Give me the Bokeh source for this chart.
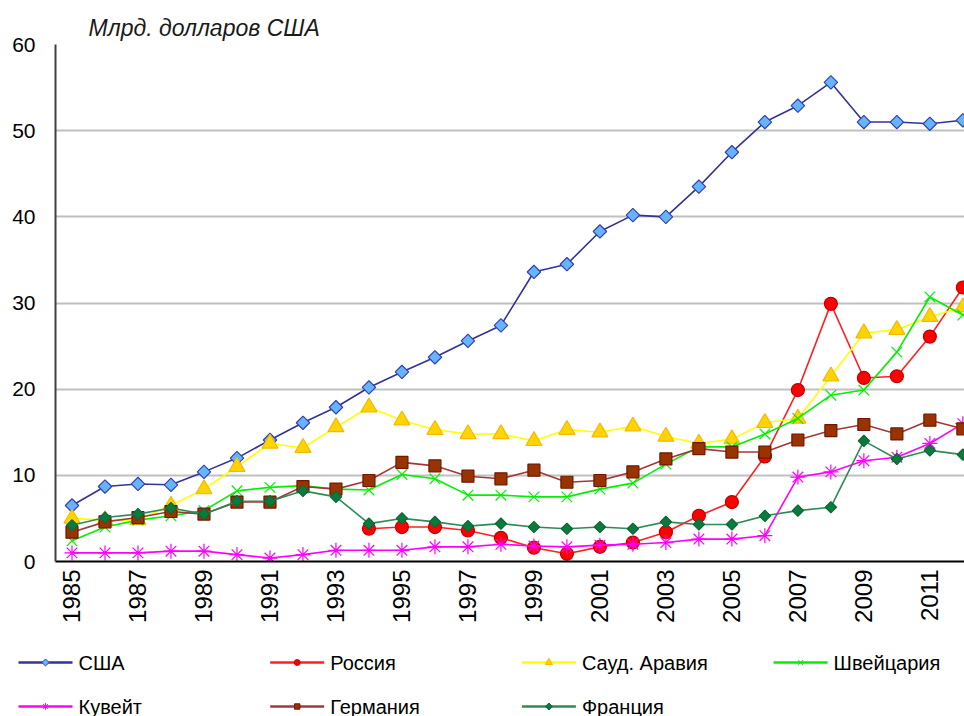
import math
from bokeh.plotting import figure
from bokeh.layouts import column
from bokeh.models import FixedTicker, Range1d, Column
from bokeh.core.properties import value
from bokeh.embed import file_html
from bokeh.resources import INLINE

# ---------------- data (billions of US dollars) ----------------
years = list(range(1985, 2013))
x_ticks = list(range(1985, 2012, 2))
y_ticks = [0, 10, 20, 30, 40, 50, 60]

usa = [6.5, 8.7, 9.0, 8.9, 10.4, 12.0, 14.1, 16.1, 17.9, 20.2, 22.0, 23.7, 25.6, 27.4,
       33.6, 34.5, 38.3, 40.2, 40.0, 43.5, 47.5, 51.0, 52.9, 55.6, 51.0, 51.0, 50.8, 51.2]
russia_years = list(range(1994, 2013))
russia = [3.8, 4.0, 4.0, 3.6, 2.75, 1.6, 0.9, 1.7, 2.2, 3.4, 5.3, 6.9, 12.2, 19.9,
          29.9, 21.3, 21.5, 26.1, 31.8]
saudi = [5.0, 4.8, 4.8, 6.5, 8.4, 11.0, 13.7, 13.2, 15.6, 17.9, 16.4, 15.3, 14.8, 14.8,
         14.0, 15.3, 15.0, 15.7, 14.5, 13.7, 14.2, 16.1, 16.6, 21.5, 26.5, 26.9, 28.4, 29.5]
swiss = [2.4, 4.0, 4.8, 5.3, 5.9, 8.2, 8.6, 8.8, 8.4, 8.3, 10.1, 9.6, 7.7, 7.7,
         7.5, 7.5, 8.4, 9.1, 11.3, 13.3, 13.3, 14.8, 16.6, 19.3, 19.9, 24.3, 30.7, 28.6]
kuwait = [1.0, 1.0, 1.0, 1.2, 1.2, 0.8, 0.4, 0.8, 1.3, 1.3, 1.3, 1.7, 1.7, 2.0,
          1.8, 1.7, 1.9, 2.0, 2.2, 2.6, 2.6, 3.0, 9.8, 10.4, 11.7, 12.1, 13.7, 16.0]
germany = [3.4, 4.6, 5.1, 5.8, 5.5, 6.9, 6.9, 8.7, 8.4, 9.4, 11.5, 11.1, 9.9, 9.6,
           10.6, 9.2, 9.4, 10.4, 11.9, 13.1, 12.7, 12.7, 14.1, 15.2, 15.9, 14.8, 16.4, 15.4]
france = [4.2, 5.1, 5.5, 6.2, 5.5, 7.0, 7.0, 8.2, 7.5, 4.4, 5.0, 4.6, 4.1, 4.4,
          4.0, 3.8, 4.0, 3.8, 4.6, 4.3, 4.3, 5.3, 5.9, 6.3, 14.0, 11.9, 12.9, 12.4]

names = ["США", "Россия", "Сауд. Аравия", "Швейцария", "Кувейт", "Германия", "Франция"]
title_text = "Млрд. долларов США"

FONT = "Liberation Sans"

# series styles: line colour, marker, size, fill, outline, angle
styles = [
    ("#333399", "square", 9.5, "#66B3FF", "#3344AA", math.pi / 4),
    ("#FF2020", "circle", 13, "#FF0000", "#C00000", 0.0),
    ("#FFFF00", "triangle", 16, "#FFD400", "#F5B800", 0.0),
    ("#00F000", "x", 15, "#00F000", "#00F000", 0.0),
    ("#FF00FF", "asterisk", 15, "#FF00FF", "#FF00FF", 0.0),
    ("#A03A3A", "square", 12, "#993300", "#701800", 0.0),
    ("#2E8B57", "square", 8, "#0A7A3E", "#0A6A36", math.pi / 4),
]
series_x = [years, russia_years, years, years, years, years, years]
series_y = [usa, russia, saudi, swiss, kuwait, germany, france]

p = figure(width=964, height=640, output_backend="svg", toolbar_location=None,
           x_range=Range1d(1984.5, 2012.05), y_range=Range1d(0, 60),
           min_border_left=55, min_border_right=0, min_border_top=44,
           min_border_bottom=79, background_fill_color="white",
           border_fill_color="white")
p.outline_line_color = None

# title
p.title.text = title_text
p.title.text_font = FONT
p.title.text_font_size = "23px"
p.title.text_font_style = "italic"
p.title.text_color = "#1a1a1a"
p.title.align = "left"
p.title.offset = 33
p.title.standoff = 8

# axes
p.xaxis.ticker = FixedTicker(ticks=x_ticks)
p.xaxis.major_label_orientation = math.pi / 2
p.xaxis.major_label_text_font = FONT
p.xaxis.major_label_text_font_size = "24px"
p.xaxis.major_label_text_color = "black"
p.xaxis.major_label_standoff = 8
p.xaxis.major_tick_out = 0
p.xaxis.major_tick_in = 0
p.xaxis.minor_tick_out = 0
p.xaxis.minor_tick_in = 0
p.xaxis.axis_line_color = "black"
p.xaxis.axis_line_width = 2

p.yaxis.ticker = FixedTicker(ticks=y_ticks)
p.yaxis.major_label_text_font = FONT
p.yaxis.major_label_text_font_size = "21px"
p.yaxis.major_label_text_color = "black"
p.yaxis.major_label_standoff = 20
p.yaxis.major_tick_out = 0
p.yaxis.major_tick_in = 0
p.yaxis.minor_tick_out = 0
p.yaxis.minor_tick_in = 0
p.yaxis.axis_line_color = "#404040"
p.yaxis.axis_line_width = 2

p.xgrid.visible = False
p.ygrid.grid_line_color = "#C0C0C0"
p.ygrid.grid_line_width = 2

for xs, ys, (lc, mk, sz, fc, oc, ang) in zip(series_x, series_y, styles):
    p.line(xs, ys, line_color=lc, line_width=1.6)
    p.scatter(xs, ys, marker=mk, size=sz, angle=ang,
              fill_color=fc, line_color=oc, line_width=1.2)

# ---------------- legend (separate strip below the chart) ----------------
LEG_H = 76
leg = figure(width=964, height=LEG_H, output_backend="svg", toolbar_location=None,
             x_range=Range1d(0, 964), y_range=Range1d(0, LEG_H),
             min_border_left=0, min_border_right=0, min_border_top=0,
             min_border_bottom=0, x_axis_location=None, y_axis_location=None,
             background_fill_color="white", border_fill_color="white")
leg.outline_line_color = None
leg.xgrid.visible = False
leg.ygrid.grid_line_color = None

col_pitch = 251.7
row_pitch = 44
x_start = 18
glyph_w = 54
y_first = LEG_H - 22

for i, (name, (lc, mk, sz, fc, oc, ang)) in enumerate(zip(names, styles)):
    c, r = i % 4, i // 4
    x0 = x_start + c * col_pitch
    yy = y_first - r * row_pitch
    leg.segment(x0=[x0], y0=[yy], x1=[x0 + glyph_w], y1=[yy], line_color=lc, line_width=2.5)
    leg.scatter([x0 + glyph_w / 2], [yy], marker=mk, size=max(5.0, sz * 0.45), angle=ang,
                fill_color=fc, line_color=oc, line_width=1.0)
    leg.text([x0 + glyph_w + 6], [yy], text=[name], text_font=value(FONT),
             text_font_size="20px", text_color="black", text_baseline="middle",
             text_align="left")

# nest the legend strip so its frame is not aligned with the chart's frame
layout = column(p, Column(children=[leg]), spacing=0)

open("out.html", "w").write(file_html(layout, INLINE))
